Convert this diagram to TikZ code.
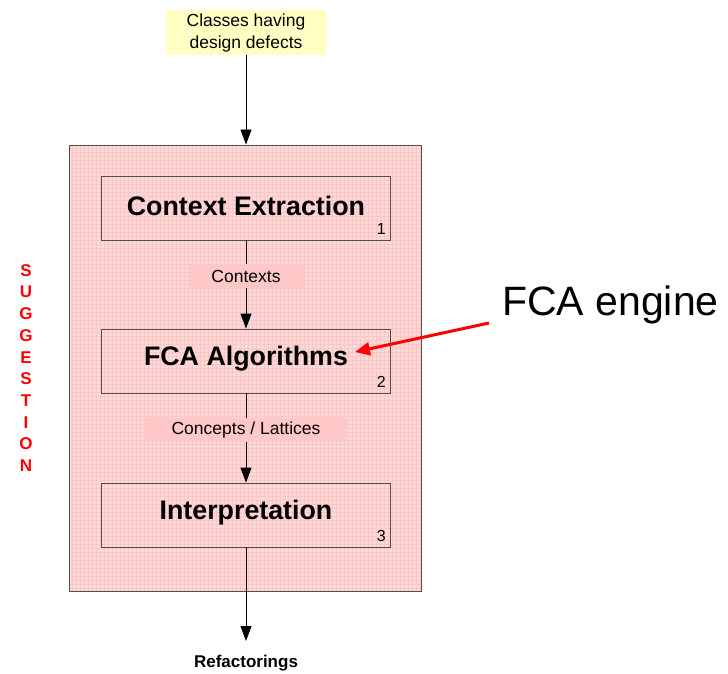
\documentclass[tikz,border=0pt]{standalone}
\usepackage{fontspec}
\setmainfont{Liberation Sans}
\usetikzlibrary{arrows.meta}
\definecolor{stagepink}{HTML}{FFD8D8}
\definecolor{gridpink}{HTML}{FAC6C6}
\definecolor{labelpink}{HTML}{FFC8C8}
\definecolor{inputyellow}{HTML}{FFFFC4}
\definecolor{framegray}{HTML}{505050}
\tikzset{
  stagebox/.style={draw=framegray, line width=0.8pt, minimum width=289pt, minimum height=64pt, inner sep=0pt},
  stagetitle/.style={font=\bfseries\fontsize{26.8}{30}\selectfont, inner sep=0pt},
  flowlabel/.style={fill=labelpink, inner sep=0pt, minimum height=24pt, font=\fontsize{17.5}{20}\selectfont},
  stepnum/.style={font=\fontsize{16}{18}\selectfont, anchor=south east, inner sep=0pt},
  flow/.style={line width=0.8pt, -{Triangle[width=11pt,length=15pt]}},
  plain/.style={line width=0.8pt},
}
\begin{document}
\begin{tikzpicture}[x=1pt, y=-1pt]
\useasboundingbox (0,0) rectangle (728,674);
\fill[white] (0,0) rectangle (728,674);

% suggestion stage frame with its fine grid
\fill[stagepink] (69,145) rectangle (421,591);
\begin{scope}
  \clip (69,145) rectangle (421,591);
  \draw[gridpink, line width=0.4pt, step=4pt] (69,145) grid (421,591);
\end{scope}
\node[draw=framegray, line width=0.8pt, minimum width=352pt, minimum height=446pt, inner sep=0pt] (stage) at (245,368) {};

% input
\node[fill=inputyellow, minimum width=160pt, minimum height=45pt, inner sep=0pt, align=center,
  font=\fontsize{17.5}{22}\selectfont] (input) at (246,32.5) {Classes having\\design defects};

% the three stages
\node[stagebox] (extract) at (246,208) {};
\node[stagetitle] (extractT) at (246,206) {Context Extraction};
\node[stepnum] (n1) at (386,235) {1};

\node[stagebox] (fca) at (246,361) {};
\node[stagetitle] (fcaT) at (246,359) {FCA Algorithms};
\node[stepnum] (n2) at (386,388) {2};

\node[stagebox] (interp) at (246,515) {};
\node[stagetitle] (interpT) at (246,513) {Interpretation};
\node[stepnum] (n3) at (386,542) {3};

% labels on the flow
\node[flowlabel, minimum width=116pt] (ctx) at (246,276) {Contexts};
\node[flowlabel, minimum width=202pt] (lat) at (246,430) {Concepts / Lattices};

% output
\node[font=\bfseries\fontsize{17}{18}\selectfont] (out) at (246,663) {Refactorings};
\coordinate (outTip) at (246,641);

% connectors
\draw[flow] (input.south) -- (stage.north -| input.south);
\draw[plain] (extract.south) -- (ctx.north);
\draw[flow] (ctx.south) -- (fca.north);
\draw[plain] (fca.south) -- (lat.north);
\draw[flow] (lat.south) -- (interp.north);
\draw[flow] (interp.south) -- (outTip);

% vertical stage name
\node[text=red, font=\bfseries\fontsize{17}{21.7}\selectfont, align=center, inner sep=0pt] (sugg) at (26,368)
  {S\\U\\G\\G\\E\\S\\T\\I\\O\\N};

% callout
\node[font=\fontsize{41}{46}\selectfont, anchor=base west, inner sep=0pt] (engine) at (502,315) {FCA engine};
\coordinate (calloutStart) at (489,323);
\coordinate (calloutTip) at (355,352);
\draw[red, line width=3pt, -{Triangle[width=13pt,length=15pt]}] (calloutStart) -- (calloutTip);
\end{tikzpicture}
\end{document}
